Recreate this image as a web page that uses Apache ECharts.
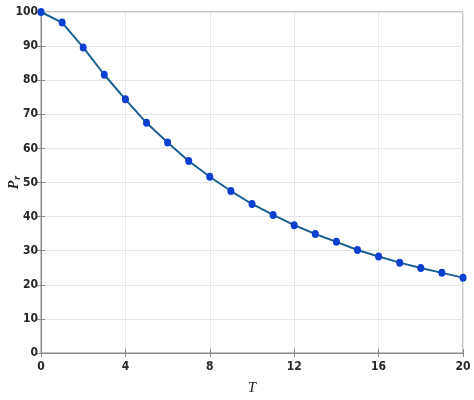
<!DOCTYPE html>
<html>
<head>
<meta charset="utf-8">
<script src="https://cdn.jsdelivr.net/npm/echarts@6/dist/echarts.min.js"></script>
<style>html,body{margin:0;padding:0;background:#fff;}#c{width:474px;height:400px;}</style>
</head>
<body>
<div id="c"></div>
<script>
const T = [0,1,2,3,4,5,6,7,8,9,10,11,12,13,14,15,16,17,18,19,20];
const Pr = [100,96.9,89.6,81.6,74.4,67.5,61.7,56.3,51.7,47.5,43.7,40.5,37.5,34.9,32.6,30.2,28.3,26.5,24.9,23.5,22.1];
const xTicks = {min:0, max:20, interval:4};
const yTicks = {min:0, max:100, interval:10};

const chart = echarts.init(document.getElementById('c'));
const labelStyle = {fontFamily:'DejaVu Sans Condensed', fontWeight:'bold', fontSize:12, color:'#262626'};
const axisLine = {show:true, lineStyle:{color:'#8a8a8a', width:1}};
chart.setOption({
  animation:false,
  grid:{left:41, right:11, top:12, bottom:47, show:true, borderColor:'#8a8a8a', borderWidth:1, containLabel:false, outerBoundsMode:'none'},
  xAxis:[{
    type:'value', min:xTicks.min, max:xTicks.max, interval:xTicks.interval,
    name:'T', nameLocation:'middle', nameGap:28, nameMoveOverlap:false,
    nameTextStyle:{fontFamily:'Liberation Serif', fontStyle:'italic', fontSize:15, color:'#262626'},
    axisLine:axisLine, axisTick:{show:true, inside:true, length:4, lineStyle:{color:'#8a8a8a'}},
    axisLabel:Object.assign({margin:8}, labelStyle),
    splitLine:{show:true, lineStyle:{color:'#e6e6e6', width:1}}
  },{
    type:'value', position:'top', min:xTicks.min, max:xTicks.max, interval:xTicks.interval,
    axisLine:axisLine, axisTick:{show:true, inside:true, length:4, lineStyle:{color:'#8a8a8a'}},
    axisLabel:{show:false}, splitLine:{show:false}
  }],
  yAxis:[{
    type:'value', min:yTicks.min, max:yTicks.max, interval:yTicks.interval,
    name:'{p|P}{s|r}', nameLocation:'middle', nameGap:19, nameRotate:90, nameMoveOverlap:false,
    nameTextStyle:{rich:{
      p:{fontFamily:'Liberation Serif', fontStyle:'italic', fontWeight:'bold', fontSize:14, color:'#262626'},
      s:{fontFamily:'Liberation Serif', fontStyle:'italic', fontWeight:'bold', fontSize:10, color:'#262626', verticalAlign:'bottom', padding:[6,0,0,1]}
    }},
    axisLine:axisLine, axisTick:{show:true, inside:true, length:4, lineStyle:{color:'#8a8a8a'}},
    axisLabel:Object.assign({margin:3}, labelStyle),
    splitLine:{show:true, lineStyle:{color:'#e6e6e6', width:1}}
  },{
    type:'value', position:'right', min:yTicks.min, max:yTicks.max, interval:yTicks.interval,
    axisLine:axisLine, axisTick:{show:true, inside:true, length:4, lineStyle:{color:'#8a8a8a'}},
    axisLabel:{show:false}, splitLine:{show:false}
  }],
  series:[{
    type:'line',
    data:T.map((t,i)=>[t,Pr[i]]),
    symbol:'circle', symbolSize:[7,8],
    lineStyle:{color:'#1b5f92', width:2},
    itemStyle:{color:'#0b3fd0', borderWidth:0},
    clip:false
  }]
});
</script>
</body>
</html>
